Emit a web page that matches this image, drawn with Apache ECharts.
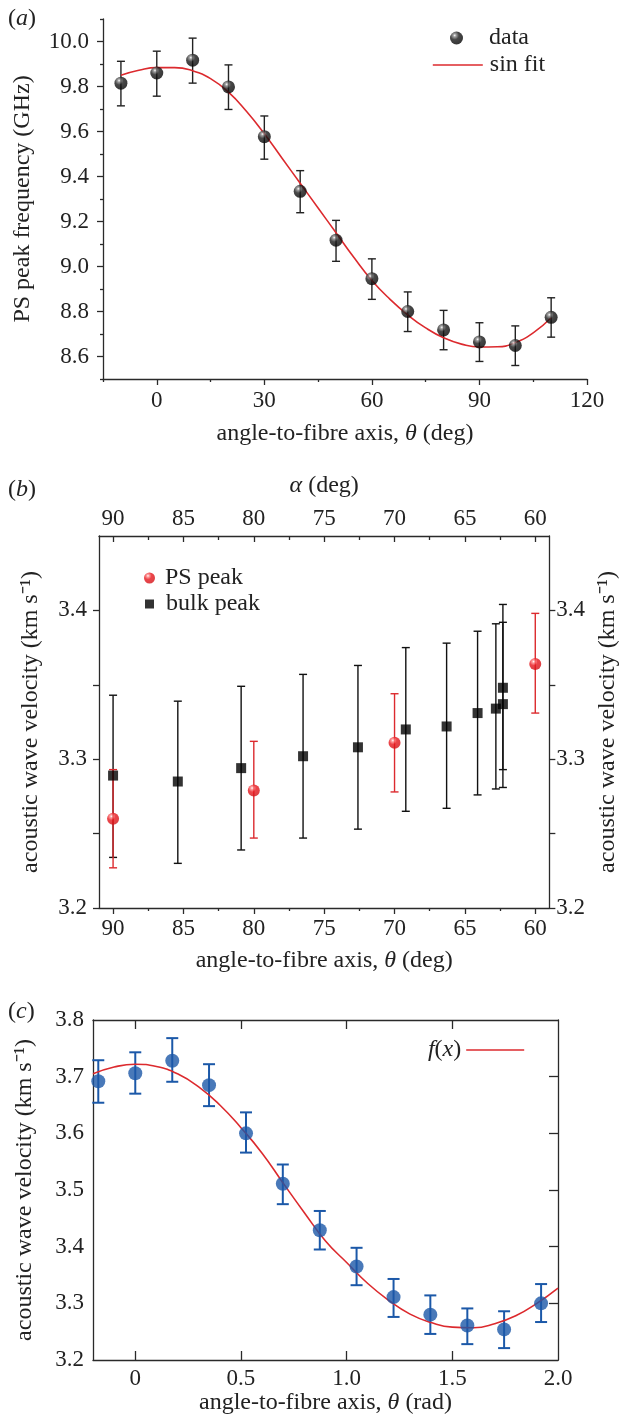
<!DOCTYPE html>
<html><head><meta charset="utf-8">
<script src="https://cdn.jsdelivr.net/npm/echarts@6/dist/echarts.min.js"></script>
<style>html,body{margin:0;padding:0;background:#fff}#c{width:628px;height:1424px}</style>
</head><body><div id="c"></div>
<script>
// ---------- Panel (a) ----------
const aAngle = [-10, 0, 10, 20, 30, 40, 50, 60, 70, 80, 90, 100, 110];
const aFreq  = [9.815, 9.860, 9.917, 9.798, 9.577, 9.334, 9.117, 8.946, 8.800, 8.718, 8.665, 8.649, 8.774];
const aLow   = [9.714, 9.757, 9.815, 9.698, 9.477, 9.239, 9.023, 8.854, 8.711, 8.630, 8.578, 8.560, 8.686];
const aHigh  = [9.912, 9.957, 10.015, 9.896, 9.669, 9.426, 9.205, 9.034, 8.887, 8.805, 8.750, 8.736, 8.861];
const aFitAngle = [-10, -5, 0, 5, 10, 15, 20, 25, 30, 35, 40, 45, 50, 55, 60, 65, 70, 75, 80, 85, 90, 95, 100, 105, 110];
const aFitFreq  = [9.850, 9.872, 9.884, 9.884, 9.870, 9.835, 9.775, 9.690, 9.590, 9.480, 9.370, 9.260, 9.150, 9.040, 8.938, 8.855, 8.785, 8.727, 8.683, 8.655, 8.642, 8.643, 8.662, 8.705, 8.772];
const aXTicks = [0, 30, 60, 90, 120];
const aXMinor = [-15, 15, 45, 75, 105];
const aYTicks = [8.6, 8.8, 9.0, 9.2, 9.4, 9.6, 9.8, 10.0];
const aYMinor = [8.5, 8.7, 8.9, 9.1, 9.3, 9.5, 9.7, 9.9, 10.1];

// ---------- Panel (b) ----------
const bPsAngle = [90, 80, 70, 60];
const bPsVel   = [3.260, 3.279, 3.311, 3.364];
const bPsLow   = [3.227, 3.247, 3.278, 3.331];
const bPsHigh  = [3.293, 3.312, 3.344, 3.398];
const bBulkAngle = [90, 85.4, 80.9, 76.5, 72.6, 69.2, 66.3, 64.1, 62.8, 62.3, 62.3];
const bBulkVel   = [3.289, 3.285, 3.294, 3.302, 3.308, 3.320, 3.322, 3.331, 3.334, 3.348, 3.337];
const bBulkLow   = [3.234, 3.230, 3.239, 3.247, 3.253, 3.265, 3.267, 3.276, 3.280, 3.293, 3.281];
const bBulkHigh  = [3.343, 3.339, 3.349, 3.357, 3.363, 3.375, 3.378, 3.386, 3.391, 3.404, 3.392];
const bXTicks = [60, 65, 70, 75, 80, 85, 90];
const bXMinor = [62.5, 67.5, 72.5, 77.5, 82.5, 87.5];
const bYTicks = [3.2, 3.3, 3.4];
const bYAllTicks = [3.2, 3.25, 3.3, 3.35, 3.4];

// ---------- Panel (c) ----------
const cAngle = [-0.175, 0, 0.175, 0.349, 0.524, 0.698, 0.873, 1.047, 1.222, 1.396, 1.571, 1.745, 1.920];
const cVel   = [3.692, 3.706, 3.728, 3.685, 3.600, 3.511, 3.429, 3.365, 3.311, 3.280, 3.261, 3.254, 3.300];
const cLow   = [3.654, 3.670, 3.691, 3.648, 3.566, 3.475, 3.395, 3.332, 3.276, 3.246, 3.228, 3.221, 3.267];
const cHigh  = [3.729, 3.743, 3.768, 3.722, 3.637, 3.545, 3.463, 3.398, 3.343, 3.314, 3.291, 3.286, 3.334];
const cFitX = [-0.2, -0.1, 0, 0.1, 0.2, 0.3, 0.4, 0.5, 0.6, 0.7, 0.8, 0.9, 1.0, 1.1, 1.2, 1.3, 1.4, 1.5, 1.6, 1.7, 1.8, 1.9, 2.0];
const cFitY = [3.705, 3.717, 3.722, 3.718, 3.705, 3.682, 3.650, 3.610, 3.565, 3.512, 3.460, 3.410, 3.372, 3.335, 3.305, 3.281, 3.266, 3.258, 3.257, 3.264, 3.278, 3.300, 3.327];
const cXTicks = [0, 0.5, 1.0, 1.5, 2.0];
const cXInnerTicks = [0, 0.5, 1.0, 1.5];
const cYTicks = [3.2, 3.3, 3.4, 3.5, 3.6, 3.7, 3.8];
const cYInnerTicks = [3.3, 3.4, 3.5, 3.6, 3.7];

const FONT = 'Liberation Serif';
const TXT = '#222';
const RED = '#dc2a2e';
const BLUE = '#1b58a8';
const FS = 24;    // axis titles / legend text
const TFS = 23;   // tick labels
const rich = {
  n: { fontFamily: FONT, fontSize: FS, color: TXT, fontWeight: 'normal' },
  i: { fontFamily: FONT, fontSize: FS, color: TXT, fontStyle: 'italic', fontWeight: 'normal' }
};
const nameStyle = { fontFamily: FONT, fontSize: FS, color: TXT, rich };
const zip = (xs, a, b) => xs.map((x, i) => [x, a[i], b[i]]);
const sphere = (hi, mid, base) => ({ type: 'radial', x: 0.36, y: 0.3, r: 0.78,
  colorStops: [{ offset: 0, color: '#ffffff' }, { offset: 0.14, color: hi }, { offset: 0.42, color: mid }, { offset: 1, color: base }] });

function errBar(color, cap, lw) {
  return function (params, api) {
    const x = api.value(0);
    const lo = api.coord([x, api.value(1)]);
    const hi = api.coord([x, api.value(2)]);
    const st = { stroke: color, lineWidth: lw };
    return { type: 'group', children: [
      { type: 'line', shape: { x1: lo[0], y1: lo[1], x2: hi[0], y2: hi[1] }, style: st },
      { type: 'line', shape: { x1: lo[0] - cap, y1: lo[1], x2: lo[0] + cap, y2: lo[1] }, style: st },
      { type: 'line', shape: { x1: hi[0] - cap, y1: hi[1], x2: hi[0] + cap, y2: hi[1] }, style: st }
    ] };
  };
}
function ax(o) {
  return Object.assign({ type: 'value', splitLine: { show: false }, axisLine: { onZero: false, lineStyle: { color: '#2a2a2a', width: 1.3 } } }, o);
}
const lbl = (vals, fmt, margin) => ({ customValues: vals, fontFamily: FONT, fontSize: TFS, color: TXT, margin: margin, formatter: fmt });
const tk = (vals, len, inside) => ({ show: true, customValues: vals, length: len, inside: !!inside, lineStyle: { color: '#2a2a2a', width: 1.3 } });
const f1 = v => v.toFixed(1);
const legText = (pad) => ({ fontFamily: FONT, fontSize: FS, color: TXT, padding: [0, 0, 0, pad] });

const option = {
  animation: false,
  backgroundColor: '#fff',
  title: [
    { text: '{n|(}{i|a}{n|)}', left: 3, top: 2, textStyle: { rich } },
    { text: '{n|(}{i|b}{n|)}', left: 3, top: 473, textStyle: { rich } },
    { text: '{n|(}{i|c}{n|)}', left: 3, top: 995, textStyle: { rich } }
  ],
  grid: [
    { left: 103, top: 19, width: 484, height: 360 },
    { left: 99, top: 536, width: 456, height: 372 },
    { left: 93, top: 1020, width: 465, height: 340 }
  ],
  legend: [
    { data: [{ name: 'data', icon: 'circle' }], left: 445, top: 21, itemWidth: 13, itemHeight: 13, textStyle: legText(21) },
    { data: ['sin fit'], left: 427, top: 48, itemWidth: 50, itemHeight: 14, textStyle: legText(2),
      itemStyle: { opacity: 0, borderWidth: 0 }, lineStyle: { width: 1.6 } },
    { data: [{ name: 'PS peak', icon: 'circle' }], left: 139, top: 561, itemWidth: 11, itemHeight: 11, textStyle: legText(5) },
    { data: [{ name: 'bulk peak', icon: 'rect' }], left: 140, top: 587, itemWidth: 9, itemHeight: 9, textStyle: legText(7) },
    { data: ['f(x)'], right: 98, top: 1033, itemWidth: 58, itemHeight: 14, align: 'right',
      itemStyle: { opacity: 0, borderWidth: 0 }, lineStyle: { width: 1.6 },
      formatter: () => '{i|f}{n|(}{i|x}{n|)}', textStyle: { rich } }
  ],
  xAxis: [
    ax({ gridIndex: 0, position: 'bottom', min: -15, max: 120, axisTick: tk(aXTicks, 6), axisLabel: lbl(aXTicks, null, 10),
      name: '{n|angle-to-fibre axis, }{i|θ}{n| (deg)}', nameLocation: 'middle', nameGap: 43, nameTextStyle: nameStyle }),
    ax({ gridIndex: 0, position: 'bottom', min: -15, max: 120, axisLine: { show: false, onZero: false }, axisTick: tk(aXMinor, 3), axisLabel: { show: false } }),
    ax({ gridIndex: 1, position: 'bottom', inverse: true, min: 59, max: 91, axisTick: tk(bXTicks, 6), axisLabel: lbl(bXTicks, null, 9),
      name: '{n|angle-to-fibre axis, }{i|θ}{n| (deg)}', nameLocation: 'middle', nameGap: 41, nameTextStyle: nameStyle }),
    ax({ gridIndex: 1, position: 'bottom', inverse: true, min: 59, max: 91, axisLine: { show: false, onZero: false }, axisTick: tk(bXMinor, 3), axisLabel: { show: false } }),
    ax({ gridIndex: 1, position: 'top', inverse: true, min: 59, max: 91, axisTick: tk(bXTicks, 6, true), axisLabel: lbl(bXTicks, null, 6),
      name: '{i|α}{n| (deg)}', nameLocation: 'middle', nameGap: 38, nameTextStyle: nameStyle }),
    ax({ gridIndex: 1, position: 'top', inverse: true, min: 59, max: 91, axisLine: { show: false, onZero: false }, axisTick: tk(bXMinor, 4, true), axisLabel: { show: false } }),
    ax({ gridIndex: 2, position: 'bottom', min: -0.2, max: 2.0, axisTick: tk(cXInnerTicks, 9, true), axisLabel: lbl(cXTicks, v => v === 0 ? '0' : v.toFixed(1), 7),
      name: '{n|angle-to-fibre axis, }{i|θ}{n| (rad)}', nameLocation: 'middle', nameGap: 30, nameTextStyle: nameStyle }),
    ax({ gridIndex: 2, position: 'top', min: -0.2, max: 2.0, axisTick: tk(cXInnerTicks, 9, true), axisLabel: { show: false } })
  ],
  yAxis: [
    ax({ gridIndex: 0, position: 'left', min: 8.5, max: 10.1, axisTick: tk(aYTicks, 6), axisLabel: lbl(aYTicks, f1, 14),
      name: 'PS peak frequency (GHz)', nameLocation: 'middle', nameGap: 68, nameRotate: 90, nameTextStyle: nameStyle }),
    ax({ gridIndex: 0, position: 'left', min: 8.5, max: 10.1, axisLine: { show: false, onZero: false }, axisTick: tk(aYMinor, 3), axisLabel: { show: false } }),
    ax({ gridIndex: 1, position: 'left', min: 3.2, max: 3.45, axisTick: tk(bYAllTicks, 6), axisLabel: lbl(bYTicks, f1, 12),
      name: 'acoustic wave velocity (km s⁻¹)', nameLocation: 'middle', nameGap: 56, nameRotate: 90, nameTextStyle: nameStyle }),
    ax({ gridIndex: 1, position: 'right', min: 3.2, max: 3.45, axisTick: tk(bYAllTicks, 6), axisLabel: lbl(bYTicks, f1, 7),
      name: 'acoustic wave velocity (km s⁻¹)', nameLocation: 'middle', nameGap: 40, nameRotate: 90, nameTextStyle: nameStyle }),
    ax({ gridIndex: 2, position: 'left', min: 3.2, max: 3.8, axisTick: { show: false }, axisLabel: lbl(cYTicks, f1, 9),
      name: 'acoustic wave velocity (km s⁻¹)', nameLocation: 'middle', nameGap: 56, nameRotate: 90, nameTextStyle: nameStyle }),
    ax({ gridIndex: 2, position: 'right', min: 3.2, max: 3.8, axisTick: tk(cYInnerTicks, 9, true), axisLabel: { show: false } })
  ],
  series: [
    { type: 'custom', xAxisIndex: 0, yAxisIndex: 0, renderItem: errBar('#222', 4, 1.4), data: zip(aAngle, aLow, aHigh), z: 2 },
    { name: 'sin fit', type: 'line', xAxisIndex: 0, yAxisIndex: 0, smooth: true, symbol: 'none', lineStyle: { color: RED, width: 1.6 }, itemStyle: { color: RED },
      data: aFitAngle.map((x, i) => [x, aFitFreq[i]]), z: 3 },
    { name: 'data', type: 'scatter', xAxisIndex: 0, yAxisIndex: 0, symbolSize: 13, itemStyle: { color: sphere('#8a8a8a', '#1a1a1a', '#000') },
      data: aAngle.map((x, i) => [x, aFreq[i]]), z: 4 },

    { type: 'custom', xAxisIndex: 2, yAxisIndex: 2, renderItem: errBar('#111', 4, 1.4), data: zip(bBulkAngle, bBulkLow, bBulkHigh), z: 2 },
    { type: 'custom', xAxisIndex: 2, yAxisIndex: 2, renderItem: errBar(RED, 4, 1.4), data: zip(bPsAngle, bPsLow, bPsHigh), z: 2 },
    { name: 'bulk peak', type: 'scatter', xAxisIndex: 2, yAxisIndex: 2, symbol: 'rect', symbolSize: 10, itemStyle: { color: '#000' },
      data: bBulkAngle.map((x, i) => [x, bBulkVel[i]]), z: 4 },
    { name: 'PS peak', type: 'scatter', xAxisIndex: 2, yAxisIndex: 2, symbolSize: 12, itemStyle: { color: sphere('#ff8c8c', '#e8161c', '#d01015') },
      data: bPsAngle.map((x, i) => [x, bPsVel[i]]), z: 5 },

    { type: 'custom', xAxisIndex: 6, yAxisIndex: 4, renderItem: errBar(BLUE, 6, 2), data: zip(cAngle, cLow, cHigh), z: 2 },
    { name: 'f(x)', type: 'line', xAxisIndex: 6, yAxisIndex: 4, smooth: true, symbol: 'none', lineStyle: { color: RED, width: 1.6 }, itemStyle: { color: RED },
      data: cFitX.map((x, i) => [x, cFitY[i]]), z: 3 },
    { type: 'scatter', xAxisIndex: 6, yAxisIndex: 4, symbolSize: 14, itemStyle: { color: BLUE },
      data: cAngle.map((x, i) => [x, cVel[i]]), z: 4 }
  ]
};
const chart = echarts.init(document.getElementById('c'), null, { renderer: 'canvas' });
chart.setOption(option);
</script>
</body></html>
